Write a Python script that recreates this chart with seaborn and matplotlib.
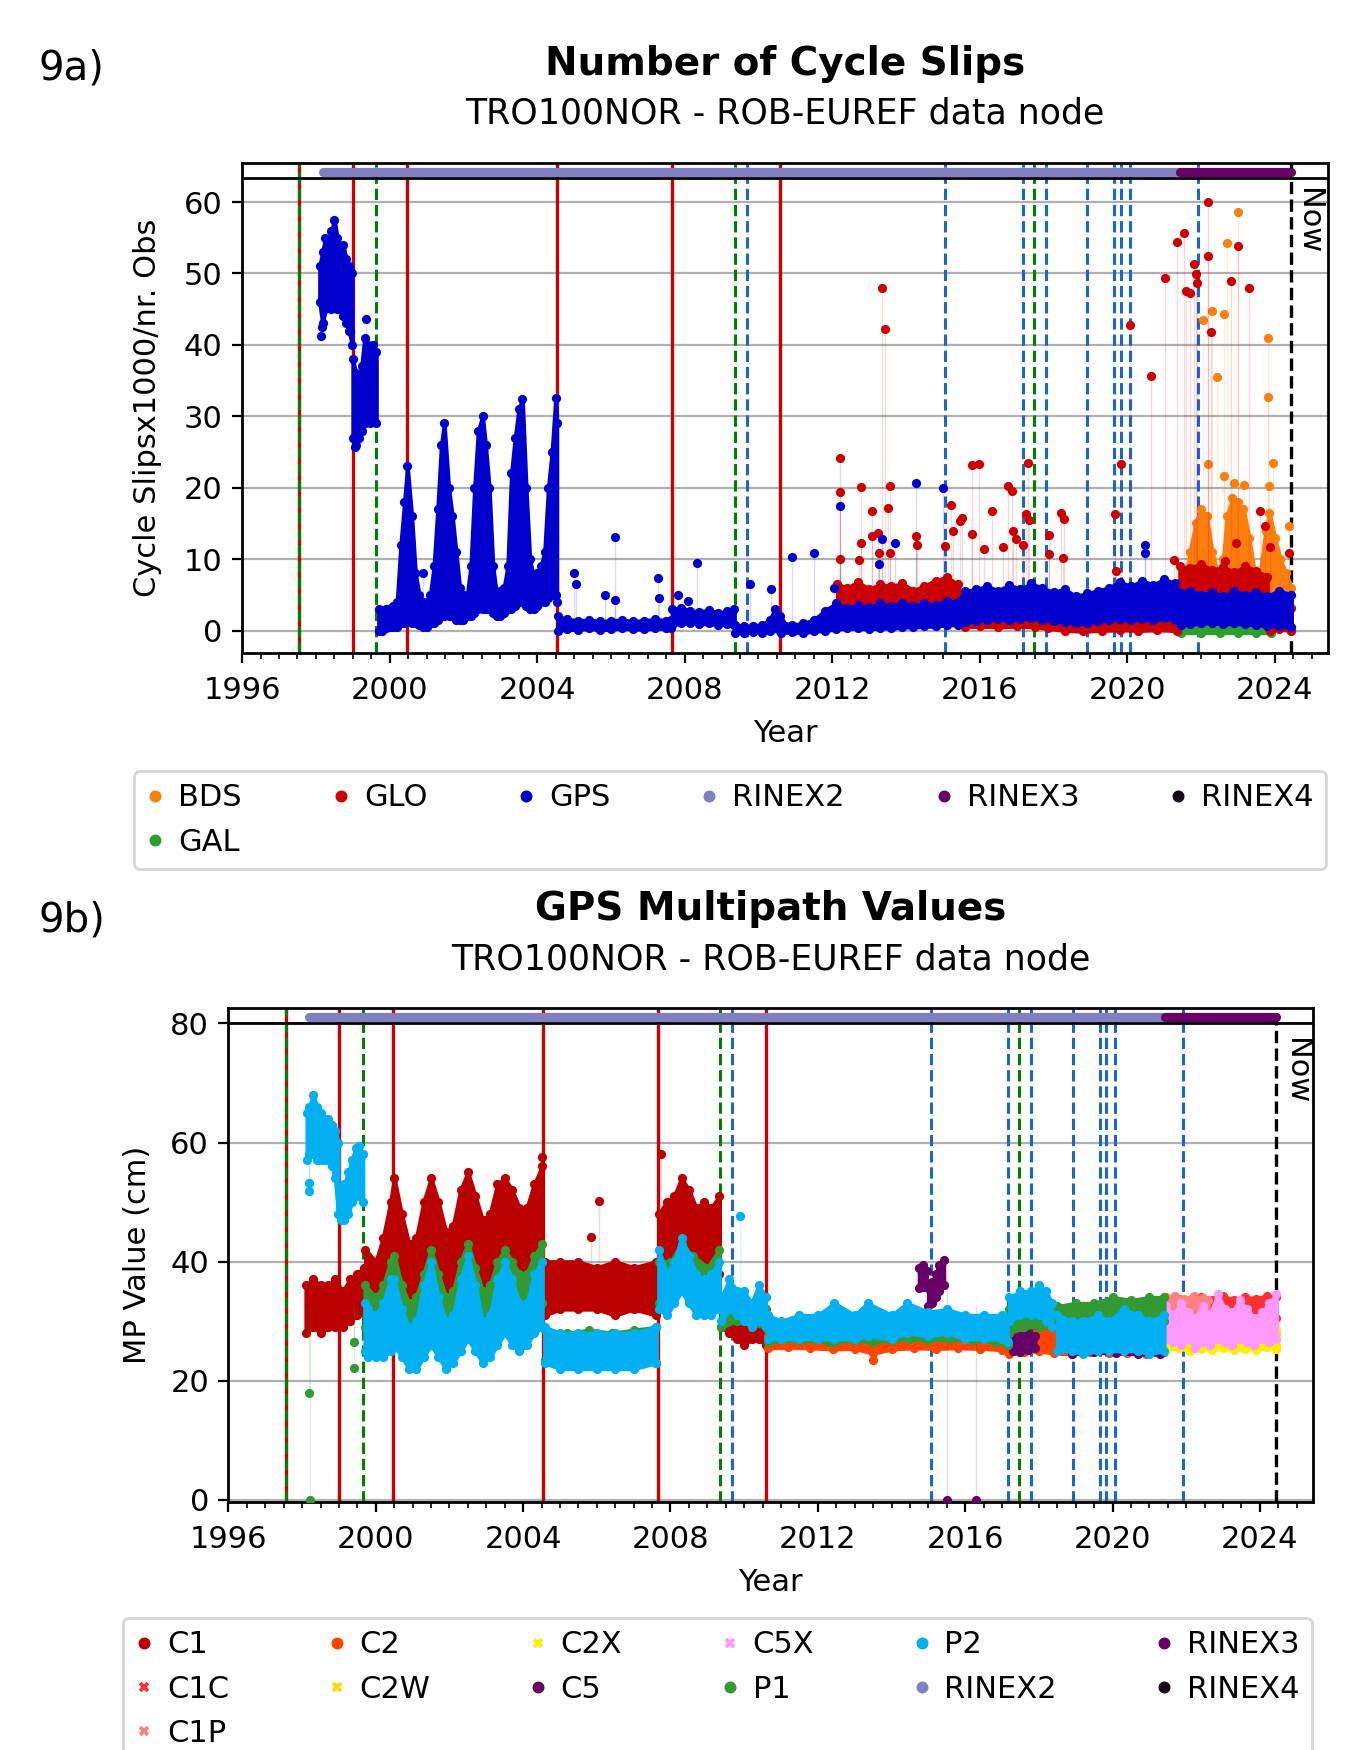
import numpy as np
import pandas as pd
import matplotlib
matplotlib.use("Agg")
import matplotlib.pyplot as plt
import seaborn as sns
from matplotlib.lines import Line2D
from matplotlib.ticker import MultipleLocator, FormatStrFormatter

sns.set_style("ticks")
plt.rcParams["font.family"] = ["DejaVu Sans"]
plt.rcParams["font.size"] = 11
for key in ("text.color", "axes.labelcolor", "xtick.color", "ytick.color", "axes.edgecolor"):
    plt.rcParams[key] = "black"

STATION = "TRO100NOR - ROB-EUREF data node"

# ---------------------------------------------------------------- station events (decimal years)
RECEIVER_CHANGES = [1997.55, 1999.0, 2000.48, 2004.54, 2007.65, 2010.59]
ANTENNA_CHANGES = [1997.55, 1999.64, 2009.35, 2017.46]
FIRMWARE_CHANGES = [2009.68, 2015.07, 2017.16, 2017.79, 2018.92, 2019.65, 2019.83, 2020.07, 2021.91]
NOW = 2024.45
RINEX_SPANS = {"RINEX2": (1998.18, 2021.43), "RINEX3": (2021.43, 2024.45)}

# ---------------------------------------------------------------- cycle slips (x1000 / nr. obs)
# each segment: (year, low edge, high edge) of the daily point cloud
GPS_CS = [
    [(1998.10, 46, 51), (1998.18, 43, 53), (1998.26, 45, 55), (1998.34, 46, 54), (1998.42, 45, 56),
     (1998.50, 46, 57.5), (1998.58, 45, 55), (1998.66, 45, 53), (1998.74, 44, 54), (1998.82, 43, 52),
     (1998.90, 42, 51), (1998.98, 40, 50)],
    [(1999.00, 27, 38), (1999.08, 26, 36), (1999.16, 27, 35), (1999.24, 28, 37), (1999.32, 29, 41),
     (1999.40, 30, 40), (1999.48, 29, 38), (1999.56, 30, 40), (1999.64, 29, 39)],
    [(1999.70, 0.0, 3.0), (1999.80, 0.0, 2.5), (1999.90, 0.3, 3.0), (2000.00, 0.5, 3.0), (2000.10, 0.5, 3.5),
     (2000.20, 0.5, 4.0), (2000.30, 1.0, 12), (2000.40, 1.0, 18), (2000.48, 1.5, 23), (2000.60, 1.0, 16),
     (2000.70, 1.0, 8.0), (2000.80, 0.8, 5.0), (2000.90, 0.5, 4.0), (2001.00, 0.5, 4.0), (2001.10, 1.0, 5.0),
     (2001.20, 1.0, 9.0), (2001.30, 1.5, 17), (2001.40, 2.0, 26), (2001.48, 2.0, 29), (2001.60, 2.0, 20),
     (2001.70, 2.0, 16), (2001.80, 1.5, 11), (2001.90, 1.5, 6.0), (2002.00, 1.5, 5.0), (2002.10, 2.0, 5.0),
     (2002.20, 2.0, 9.0), (2002.30, 2.5, 20), (2002.40, 3.0, 28), (2002.52, 3.0, 30), (2002.60, 3.0, 26),
     (2002.70, 3.0, 20), (2002.80, 2.5, 9.0), (2002.90, 2.0, 5.0), (2003.00, 2.0, 5.5), (2003.10, 2.5, 6.0),
     (2003.20, 3.0, 9.0), (2003.30, 3.0, 22), (2003.40, 3.5, 27), (2003.50, 4.0, 31), (2003.60, 4.0, 32.4),
     (2003.70, 3.5, 20), (2003.80, 3.0, 10), (2003.90, 3.0, 7.5), (2004.00, 3.5, 8.0), (2004.10, 4.0, 9.0),
     (2004.20, 4.0, 11), (2004.30, 4.5, 20), (2004.40, 5.0, 25), (2004.50, 5.0, 32.6), (2004.53, 4.0, 29)],
    [(2004.56, 0.0, 2.0), (2004.80, 0.2, 1.6), (2005.10, 0.1, 1.4), (2005.40, 0.3, 1.5), (2005.70, 0.1, 1.3),
     (2006.00, 0.2, 1.4), (2006.30, 0.3, 1.5), (2006.60, 0.2, 1.3), (2006.90, 0.2, 1.4), (2007.20, 0.3, 1.6),
     (2007.50, 0.3, 1.4), (2007.64, 0.4, 1.5)],
    [(2007.66, 0.8, 3.0), (2007.90, 1.0, 3.2), (2008.15, 1.1, 2.8), (2008.40, 0.9, 2.6), (2008.65, 1.0, 2.9),
     (2008.90, 0.8, 2.5), (2009.15, 0.9, 2.7), (2009.34, 0.8, 3.0)],
    [(2009.36, -0.3, 0.8), (2009.60, -0.3, 0.6), (2009.85, -0.2, 0.7), (2010.10, -0.3, 0.8), (2010.30, 0.0, 1.5),
     (2010.45, 0.3, 3.0), (2010.58, 0.0, 2.0)],
    [(2010.60, -0.3, 1.2), (2010.90, -0.2, 0.8), (2011.20, -0.3, 1.0), (2011.50, -0.1, 1.5), (2011.80, 0.0, 2.8),
     (2012.10, 0.2, 3.8), (2012.40, 0.3, 3.2), (2012.70, 0.3, 3.6), (2013.00, 0.2, 3.3), (2013.30, 0.4, 3.8),
     (2013.60, 0.3, 3.4), (2013.90, 0.5, 3.9), (2014.20, 0.5, 3.5), (2014.50, 0.6, 3.8), (2014.80, 0.6, 3.6),
     (2015.10, 0.8, 4.2), (2015.40, 0.8, 4.0), (2015.60, 1.2, 5.5), (2015.90, 1.4, 5.8), (2016.20, 1.5, 6.2),
     (2016.50, 1.6, 5.6), (2016.80, 1.5, 6.4), (2017.10, 1.6, 5.8), (2017.40, 1.8, 6.6), (2017.70, 1.5, 5.9),
     (2018.00, 1.3, 5.4), (2018.30, 1.2, 5.8), (2018.60, 1.0, 4.8), (2018.90, 1.0, 5.2), (2019.20, 1.3, 5.6),
     (2019.50, 1.5, 6.0), (2019.80, 1.6, 6.8), (2020.10, 1.5, 6.2), (2020.40, 1.6, 7.0), (2020.70, 1.5, 6.4),
     (2021.00, 1.7, 7.2), (2021.30, 1.5, 6.6), (2021.45, 0.8, 5.2), (2021.70, 0.9, 5.6), (2022.00, 1.0, 5.0),
     (2022.30, 1.1, 5.4), (2022.60, 0.9, 4.8), (2022.90, 1.0, 5.5), (2023.20, 0.9, 5.0), (2023.50, 0.8, 5.4),
     (2023.80, 0.7, 4.8), (2024.10, 0.6, 5.6), (2024.45, 0.5, 5.0)],
]
GPS_CS_OUT = [(1998.15, 41.2), (1998.16, 42.5), (1998.92, 42.0), (1999.05, 25.7), (1999.35, 43.6),
              (2000.90, 8.0), (2005.00, 8.0), (2005.05, 6.5), (2005.85, 5.0), (2006.10, 13.1), (2006.12, 4.3),
              (2007.28, 7.3), (2007.30, 4.5), (2007.82, 5.0), (2008.32, 9.4), (2008.10, 4.2), (2009.77, 6.5),
              (2010.33, 5.8), (2010.90, 10.3), (2011.50, 10.9), (2012.05, 6.0), (2012.20, 17.4), (2013.28, 9.3),
              (2013.35, 12.8), (2013.70, 12.3), (2014.28, 20.7), (2015.00, 20.0), (2020.47, 12.0), (2020.48, 10.9)]

GLO_CS = [
    [(2012.14, 1.5, 6.5), (2012.40, 2.5, 6.0), (2012.70, 2.2, 6.8), (2013.00, 2.0, 5.8), (2013.30, 2.5, 6.5),
     (2013.60, 2.0, 6.2), (2013.90, 2.3, 6.6), (2014.20, 2.0, 5.6), (2014.50, 2.4, 6.3), (2014.80, 2.5, 7.0),
     (2015.10, 2.8, 7.5), (2015.40, 2.5, 6.5), (2015.55, 1.5, 4.0)],
    [(2015.60, 0.5, 2.4), (2016.00, 0.6, 2.2), (2016.50, 0.5, 2.5), (2017.00, 0.6, 2.3), (2017.50, 0.5, 2.6),
     (2017.85, 0.3, 2.0), (2018.30, 0.0, 1.8), (2018.80, -0.1, 1.9), (2019.30, 0.0, 2.0), (2019.80, 0.1, 2.2),
     (2020.30, 0.0, 1.9), (2020.80, 0.1, 2.1), (2021.35, 0.0, 2.0)],
    [(2021.42, 4.5, 9.0), (2021.70, 4.2, 8.8), (2022.00, 4.5, 9.3), (2022.30, 4.0, 8.5), (2022.60, 4.4, 8.9),
     (2022.90, 4.0, 8.2), (2023.20, 4.3, 9.0), (2023.50, 4.0, 8.4), (2023.80, 3.5, 7.5)],
    [(2023.88, 0.0, 3.0), (2024.10, 0.2, 2.8), (2024.45, 0.0, 3.2)],
]
GLO_CS_OUT = [(2012.22, 24.2), (2012.22, 19.4), (2012.20, 10.0), (2012.79, 20.1), (2012.79, 12.2), (2012.72, 9.9),
              (2013.09, 16.7), (2013.07, 13.2), (2013.23, 13.6), (2013.26, 10.8), (2013.36, 48.0), (2013.42, 42.2),
              (2013.50, 17.2), (2013.57, 20.2), (2013.57, 10.8), (2014.28, 13.3), (2014.31, 12.0), (2015.07, 11.8),
              (2015.23, 17.6), (2015.28, 14.0), (2015.47, 15.3), (2015.52, 15.8), (2015.80, 13.5), (2015.78, 23.2),
              (2015.99, 23.3), (2016.12, 11.4), (2016.33, 16.7), (2016.62, 11.7), (2016.76, 20.2), (2016.87, 19.5),
              (2016.90, 13.9), (2016.98, 12.8), (2017.17, 12.0), (2017.25, 16.3), (2017.31, 23.5), (2017.33, 15.5),
              (2017.88, 13.4), (2017.89, 10.7), (2018.20, 16.4), (2018.28, 15.6), (2018.25, 10.1), (2019.67, 16.3),
              (2019.70, 8.4), (2019.82, 23.3), (2020.06, 42.8), (2020.63, 35.7), (2021.02, 49.4), (2021.35, 54.4),
              (2021.54, 55.7), (2021.58, 47.5), (2021.70, 47.3), (2021.80, 51.3), (2021.85, 49.9), (2021.90, 48.7),
              (2022.18, 60.0), (2022.18, 52.5), (2022.26, 41.8), (2022.80, 49.0), (2022.99, 53.9), (2023.29, 48.0),
              (2021.27, 9.9), (2022.95, 12.2), (2022.66, 9.8), (2023.60, 16.7), (2023.72, 14.7), (2023.88, 11.7),
              (2024.38, 10.8)]

BDS_CS = [
    [(2021.55, 1.5, 6.0), (2021.70, 2.0, 11), (2021.85, 3.0, 15), (2022.00, 4.0, 17), (2022.15, 4.0, 16),
     (2022.30, 3.0, 11), (2022.45, 2.0, 8.0), (2022.60, 2.5, 10), (2022.70, 4.0, 16), (2022.85, 5.0, 18.5),
     (2023.00, 5.0, 18), (2023.15, 5.0, 17), (2023.30, 4.0, 13), (2023.45, 2.5, 8.0), (2023.60, 2.0, 8.0),
     (2023.75, 3.0, 14), (2023.85, 3.0, 16.5), (2024.00, 2.5, 13), (2024.15, 2.0, 10), (2024.30, 1.0, 8.0),
     (2024.45, 0.5, 6.0)],
]
BDS_CS_OUT = [(2022.99, 58.6), (2022.70, 54.3), (2022.30, 44.7), (2022.06, 43.5), (2022.63, 44.3), (2022.43, 35.5),
              (2023.82, 40.9), (2023.82, 32.7), (2022.20, 23.3), (2023.94, 23.5), (2022.63, 21.6), (2022.90, 20.7),
              (2023.16, 20.4), (2023.83, 20.3), (2024.38, 14.7)]

GAL_CS = [
    [(2021.45, -0.3, 0.6), (2022.00, -0.3, 0.7), (2022.50, -0.3, 0.6), (2023.00, -0.3, 0.7),
     (2023.50, -0.3, 0.6), (2023.90, -0.3, 0.5)],
]
GAL_CS_OUT = [(2021.20, 0.3)]

# ---------------------------------------------------------------- GPS multipath (cm)
MP_C1 = [
    [(1998.10, 28, 36), (1998.30, 29, 37), (1998.50, 28, 36), (1998.70, 29, 36), (1998.90, 29, 37),
     (1999.10, 29, 35), (1999.30, 30, 37), (1999.50, 31, 38), (1999.68, 32, 39)],
    [(1999.72, 33, 42), (2000.00, 32, 40), (2000.20, 34, 44), (2000.40, 36, 50), (2000.50, 37, 54),
     (2000.70, 35, 48), (2000.90, 33, 43), (2001.10, 33, 44), (2001.30, 35, 50), (2001.50, 37, 54),
     (2001.70, 36, 50), (2001.90, 34, 45), (2002.10, 35, 46), (2002.30, 37, 52), (2002.50, 39, 55),
     (2002.70, 37, 51), (2002.90, 35, 47), (2003.10, 36, 48), (2003.30, 38, 53), (2003.50, 39, 54),
     (2003.70, 38, 52), (2003.90, 37, 49), (2004.10, 37, 49), (2004.30, 39, 53), (2004.52, 40, 56)],
    [(2004.58, 31, 40), (2005.00, 32, 40), (2005.50, 32, 40), (2006.00, 32, 39), (2006.50, 31, 40),
     (2007.00, 32, 39), (2007.62, 31, 40)],
    [(2007.68, 38, 48), (2007.90, 38, 50), (2008.10, 40, 51), (2008.30, 41, 54), (2008.50, 40, 52),
     (2008.70, 39, 49), (2008.90, 38, 50), (2009.10, 38, 49), (2009.33, 38, 51)],
    [(2009.38, 29, 33), (2009.60, 28, 32), (2009.80, 27, 31), (2010.00, 26, 30), (2010.20, 27, 31),
     (2010.40, 27, 30), (2010.58, 26, 29)],
    [(2010.62, 26, 28.5), (2012.00, 26.5, 28), (2014.00, 26, 28), (2016.00, 26, 28), (2018.00, 25.5, 28.5),
     (2020.00, 25.5, 28.5), (2021.40, 26, 29)],
]
MP_C1_OUT = [(2004.50, 57.5), (2007.75, 58.1), (2006.05, 50.1), (2005.85, 44.2)]

MP_C2 = [
    [(2010.65, 25.5, 27.5), (2011.20, 25.6, 27.4), (2011.80, 25.5, 27.6), (2012.40, 25.3, 27.3),
     (2013.00, 25.4, 27.4), (2013.50, 24.6, 27.0), (2014.00, 25.3, 27.2), (2014.60, 25.5, 27.5),
     (2015.20, 25.4, 27.4), (2015.80, 25.5, 27.3), (2016.40, 25.4, 27.2), (2017.00, 25.2, 27.0),
     (2017.20, 24.5, 28.0), (2017.60, 24.8, 28.5), (2018.00, 25.0, 28.2), (2018.40, 24.6, 28.6),
     (2018.90, 24.5, 27.5), (2019.40, 24.8, 27.6), (2019.90, 24.6, 27.4), (2020.40, 24.7, 27.8),
     (2020.90, 24.5, 27.5), (2021.40, 24.8, 27.6)],
]
MP_C2_OUT = [(2013.50, 23.4)]

MP_C5 = [
    [(2014.75, 35.5, 39.0), (2014.85, 35.8, 39.5), (2014.95, 36.0, 38.5)],
    [(2015.00, 32.5, 35.5), (2015.10, 33.0, 36.5), (2015.20, 34.0, 38.0), (2015.30, 35.0, 39.5),
     (2015.42, 36.0, 40.3)],
    [(2017.30, 25.0, 28.0), (2017.50, 24.8, 27.5), (2017.70, 25.2, 28.5), (2017.90, 25.5, 27.5)],
    [(2018.90, 24.5, 26.0), (2019.50, 24.8, 25.8), (2020.10, 24.6, 26.2), (2020.70, 24.5, 25.8),
     (2021.30, 24.4, 26.0)],
]
MP_C5_OUT = [(2015.50, 0.0), (2016.30, 0.0)]

MP_P1 = [
    [(1999.70, 29, 36), (2000.00, 27, 34), (2000.20, 28, 36), (2000.40, 30, 40), (2000.50, 31, 41),
     (2000.70, 29, 36), (2000.90, 27, 33), (2001.10, 27, 34), (2001.30, 29, 38), (2001.50, 31, 42),
     (2001.70, 30, 38), (2001.90, 28, 34), (2002.10, 28, 35), (2002.30, 30, 40), (2002.50, 32, 43),
     (2002.70, 30, 39), (2002.90, 28, 35), (2003.10, 29, 36), (2003.30, 31, 40), (2003.50, 32, 42),
     (2003.70, 31, 40), (2003.90, 30, 38), (2004.10, 30, 38), (2004.30, 32, 41), (2004.52, 33, 43)],
    [(2004.58, 23.5, 28.5), (2005.20, 23, 28), (2005.80, 23.5, 28.5), (2006.40, 23, 28), (2007.00, 23.5, 28.5),
     (2007.62, 23, 29)],
    [(2007.68, 33, 40), (2008.00, 33, 40), (2008.30, 35, 43), (2008.60, 34, 41), (2009.00, 32, 39),
     (2009.33, 33, 42)],
    [(2009.38, 29, 34), (2009.80, 30, 33), (2010.20, 29.5, 33), (2010.58, 29, 32)],
    [(2010.65, 26.5, 28.5), (2011.50, 26.8, 28.8), (2012.30, 26.5, 29.0), (2012.45, 26.5, 30.0),
     (2013.00, 26.8, 29.0), (2013.50, 26.5, 29.5), (2014.00, 26.8, 29.2), (2014.50, 27.0, 30.0),
     (2015.00, 26.8, 29.0), (2015.60, 27.0, 29.5), (2016.20, 26.8, 29.2), (2016.80, 26.5, 29.0),
     (2017.15, 26.0, 28.5)],
    [(2017.20, 28, 32), (2017.60, 29, 33), (2018.00, 29, 32), (2018.50, 29, 32.5), (2019.00, 29.5, 33),
     (2019.50, 29.5, 33), (2020.00, 30, 34), (2020.50, 30, 33.5), (2021.00, 30, 34), (2021.40, 30, 34)],
]
MP_P1_OUT = [(1998.20, 17.9), (1998.21, 0.0), (1999.40, 22.1), (1999.42, 26.5)]

MP_P2 = [
    [(1998.13, 57, 65), (1998.20, 58, 66), (1998.30, 58, 68), (1998.40, 57, 66), (1998.50, 57, 65),
     (1998.60, 57, 64), (1998.70, 57, 64), (1998.80, 56, 63), (1998.90, 54, 62), (1998.98, 48, 60)],
    [(1999.05, 47, 52), (1999.15, 47, 53), (1999.25, 48, 55), (1999.35, 50, 57), (1999.45, 51, 59),
     (1999.55, 51, 59.5), (1999.65, 50, 58)],
    [(1999.70, 25, 33), (1999.80, 24, 32), (2000.00, 24, 31), (2000.20, 24, 33), (2000.40, 25, 37),
     (2000.50, 26, 37), (2000.70, 24, 32), (2000.90, 22, 29), (2001.10, 22, 30), (2001.30, 24, 36),
     (2001.50, 26, 40), (2001.70, 24, 34), (2001.90, 22, 30), (2002.10, 23, 31), (2002.30, 25, 37),
     (2002.50, 27, 41), (2002.70, 25, 36), (2002.90, 23, 30), (2003.10, 24, 31), (2003.30, 26, 37),
     (2003.50, 28, 40), (2003.70, 26, 37), (2003.90, 25, 33), (2004.10, 26, 33), (2004.30, 28, 38),
     (2004.52, 29, 40)],
    [(2004.58, 23, 29), (2005.00, 22, 28), (2005.50, 22, 28), (2006.00, 22, 28), (2006.50, 22, 28),
     (2007.00, 22, 28), (2007.62, 23, 29)],
    [(2007.68, 32, 42), (2007.90, 31, 38), (2008.10, 33, 40), (2008.30, 35, 44), (2008.50, 33, 41),
     (2008.70, 31, 38), (2008.90, 31, 37), (2009.10, 31, 38), (2009.33, 32, 40)],
    [(2009.38, 30, 34), (2009.60, 32, 37), (2009.80, 31, 35), (2010.00, 30, 35), (2010.20, 29, 33),
     (2010.40, 30, 36), (2010.58, 29, 34)],
    [(2010.65, 27, 31), (2011.00, 27, 30), (2011.50, 27, 31), (2012.00, 27, 31), (2012.45, 27, 33),
     (2013.00, 27, 31), (2013.35, 27.5, 33), (2014.00, 27, 31), (2014.43, 28, 33), (2015.00, 27.5, 31.5),
     (2015.50, 28, 32), (2016.00, 27, 31), (2016.50, 27, 31), (2017.00, 27, 31), (2017.15, 26.5, 30.5)],
    [(2017.20, 30, 34), (2017.50, 31, 35), (2017.80, 31, 35), (2018.00, 31, 36), (2018.20, 30, 35),
     (2018.35, 29, 33)],
    [(2018.50, 25, 31), (2018.90, 25, 30), (2019.20, 24.5, 30), (2019.60, 25, 31), (2019.90, 25, 30),
     (2020.30, 25, 32), (2020.70, 25, 31), (2021.00, 24.5, 30), (2021.40, 25, 31)],
]
MP_P2_OUT = [(2009.90, 47.7), (1998.18, 53.2), (1998.19, 51.9)]

MP_C1C = [
    [(2021.45, 30.5, 33.5), (2021.80, 30.8, 33.8), (2022.10, 30.5, 33.2), (2022.40, 31.0, 34.0),
     (2022.70, 30.6, 33.5), (2023.00, 30.8, 34.2), (2023.30, 30.5, 33.6), (2023.60, 31.0, 34.0),
     (2023.90, 30.7, 33.8), (2024.20, 30.9, 34.3), (2024.45, 30.5, 34.0)],
]
MP_C1P = [
    [(2021.45, 30.8, 34.0), (2021.70, 31.0, 34.3), (2021.95, 30.6, 33.8), (2022.20, 31.0, 34.2),
     (2022.45, 30.7, 33.9), (2022.60, 30.8, 33.5)],
]
MP_C2W = [
    [(2021.45, 25.6, 27.6), (2022.20, 25.8, 27.8), (2023.00, 25.6, 27.9), (2023.80, 25.7, 27.7),
     (2024.45, 25.8, 27.8)],
]
MP_C2X = [
    [(2021.45, 25.2, 28.5), (2021.80, 25.5, 28.8), (2022.10, 25.0, 28.2), (2022.40, 25.4, 28.7),
     (2022.70, 25.2, 28.4), (2023.00, 25.5, 29.0), (2023.30, 25.1, 28.3), (2023.60, 25.4, 28.8),
     (2023.90, 25.2, 28.5), (2024.20, 25.6, 29.2), (2024.45, 25.3, 28.6)],
]
MP_C5X = [
    [(2021.45, 27.0, 32.5), (2021.65, 26.5, 31.0), (2021.85, 26.0, 33.0), (2022.05, 27.0, 31.5),
     (2022.25, 25.5, 30.5), (2022.45, 26.5, 32.5), (2022.65, 26.0, 31.0), (2022.85, 27.0, 34.5),
     (2023.05, 26.5, 32.0), (2023.25, 26.0, 31.5), (2023.45, 27.0, 33.5), (2023.65, 26.5, 32.0),
     (2023.85, 26.0, 30.5), (2024.05, 27.0, 31.5), (2024.25, 26.5, 33.0), (2024.45, 27.0, 34.5)],
]

# ---------------------------------------------------------------- colours and markers
CS_COLORS = {"BDS": "#ff7f0e", "GAL": "#2ca02c", "GLO": "#cc0000", "GPS": "#0000cc",
             "RINEX2": "#8080c0", "RINEX3": "#660066", "RINEX4": "#1a0018"}
MP_COLORS = {"C1": "#bb0000", "C1C": "#ff3030", "C1P": "#ff8080", "C2": "#ff4500", "C2W": "#ffd700",
             "C2X": "#ffee00", "C5": "#660066", "C5X": "#ff99ff", "P1": "#339933", "P2": "#00b0f0",
             "RINEX2": "#8080c0", "RINEX3": "#660066", "RINEX4": "#1a0018"}
X_MARKED = {"C1C", "C1P", "C2W", "C2X", "C5X"}

CS_SERIES = [("BDS", BDS_CS, BDS_CS_OUT), ("GAL", GAL_CS, GAL_CS_OUT),
             ("GLO", GLO_CS, GLO_CS_OUT), ("GPS", GPS_CS, GPS_CS_OUT)]
MP_SERIES = [("C1", MP_C1, MP_C1_OUT), ("C1C", MP_C1C, []), ("C1P", MP_C1P, []), ("C2", MP_C2, MP_C2_OUT),
             ("C2W", MP_C2W, []), ("C2X", MP_C2X, []), ("C5", MP_C5, MP_C5_OUT), ("C5X", MP_C5X, []),
             ("P1", MP_P1, MP_P1_OUT), ("P2", MP_P2, MP_P2_OUT)]


def draw_series(ax, segments, outliers, color, z):
    knots = []
    for seg in segments:
        t, lo, hi = np.array(seg, dtype=float).T
        ax.fill_between(t, lo, hi, color=color, edgecolor=color, linewidth=1.4, zorder=z)
        edge = pd.DataFrame({"year": np.r_[t, t], "value": np.r_[lo, hi]})
        sns.scatterplot(data=edge, x="year", y="value", color=color, s=11, linewidth=0,
                        ax=ax, zorder=z, legend=False)
        knots.append(np.c_[t, (lo + hi) / 2])
    if outliers:
        knots = np.vstack(knots)
        order = np.argsort(knots[:, 0])
        ot, ov = np.array(outliers, dtype=float).T
        base = np.interp(ot, knots[order, 0], knots[order, 1])
        ax.vlines(ot, base, ov, color=color, lw=0.5, alpha=0.15, zorder=z - 0.05)
        pts = pd.DataFrame({"year": ot, "value": ov})
        sns.scatterplot(data=pts, x="year", y="value", color=color, s=11, linewidth=0,
                        ax=ax, zorder=z, legend=False)


def draw_events(ax):
    for x in RECEIVER_CHANGES:
        ax.axvline(x, color="#cc0000", lw=1.2, zorder=1.0)
    for x in ANTENNA_CHANGES:
        ax.axvline(x, color="#008000", lw=1.1, ls="--", zorder=1.1)
    for x in FIRMWARE_CHANGES:
        ax.axvline(x, color="#1a66cc", lw=1.1, ls="--", zorder=1.1)
    ax.axvline(NOW, color="black", lw=1.2, ls="--", zorder=1.1)


def draw_rinex(ax, bar_y, line_y):
    ax.axhline(line_y, color="black", lw=1.0, zorder=5)
    for name, (a, b) in RINEX_SPANS.items():
        ax.plot([a, b], [bar_y, bar_y], color=CS_COLORS[name], lw=3.3,
                solid_capstyle="round", zorder=6)


def style_axes(ax, ylim, yticks, ylabel, ylabel_pad, now_dx, now_y):
    ax.set_xlim(1996, 2025.45)
    ax.set_ylim(*ylim)
    ax.set_yticks(yticks)
    ax.xaxis.set_major_locator(MultipleLocator(4))
    ax.xaxis.set_minor_locator(MultipleLocator(0.5))
    ax.xaxis.set_major_formatter(FormatStrFormatter("%d"))
    ax.yaxis.grid(True, color="#b0b0b0", lw=0.8)
    ax.xaxis.grid(False)
    ax.set_axisbelow(True)
    ax.set_xlabel("Year", fontsize=11, labelpad=5)
    ax.set_ylabel(ylabel, fontsize=11, labelpad=ylabel_pad)
    ax.tick_params(labelsize=11, color="black", labelcolor="black")
    ax.tick_params(axis="x", which="major", pad=5)
    for sp in ax.spines.values():
        sp.set_visible(True)
        sp.set_color("black")
        sp.set_linewidth(1.0)
    ax.text(NOW + now_dx, now_y, "Now", rotation=270, ha="center", va="top", fontsize=11)


def handles_for(names, colors):
    return [Line2D([], [], ls="none", marker="x" if n in X_MARKED else "o", color=colors[n],
                   markersize=3, markeredgewidth=1.3) for n in names]


fig = plt.figure(figsize=(6.84, 8.75), dpi=200)
ax1 = fig.add_axes([0.177, 0.627, 0.794, 0.280])
ax2 = fig.add_axes([0.167, 0.142, 0.793, 0.282])

# ---- cycle slips
draw_events(ax1)
for i, (name, segs, outs) in enumerate(CS_SERIES):
    draw_series(ax1, segs, outs, CS_COLORS[name], 2 + 0.1 * i)
draw_rinex(ax1, 64.2, 63.3)
style_axes(ax1, (-3.1, 65.5), [0, 10, 20, 30, 40, 50, 60], "Cycle Slipsx1000/nr. Obs", 8, 0.45, 61.9)

# ---- multipath
draw_events(ax2)
for i, (name, segs, outs) in enumerate(MP_SERIES):
    draw_series(ax2, segs, outs, MP_COLORS[name], 2 + 0.1 * i)
draw_rinex(ax2, 81.1, 80.0)
style_axes(ax2, (-0.3, 82.6), [0, 20, 40, 60, 80], "MP Value (cm)", 6.5, 0.55, 77.6)

# ---- titles and panel tags
fig.text(0.0285, 0.9606, "9a)", fontsize=14.5, va="center", ha="left")
fig.text(785 / 1368, 1 - 63.6 / 1750, "Number of Cycle Slips", ha="center", va="center",
         fontsize=14, fontweight="bold")
fig.text(785 / 1368, 1 - 114 / 1750, STATION, ha="center", va="center", fontsize=12.5)
fig.text(0.0285, 0.474, "9b)", fontsize=14.5, va="center", ha="left")
fig.text(771 / 1368, 1 - 909 / 1750, "GPS Multipath Values", ha="center", va="center",
         fontsize=14, fontweight="bold")
fig.text(771 / 1368, 1 - 960 / 1750, STATION, ha="center", va="center", fontsize=12.5)

# ---- legends
cs_names = ["BDS", "GAL", "GLO", "GPS", "RINEX2", "RINEX3", "RINEX4"]
fig.legend(handles_for(cs_names, CS_COLORS), cs_names, loc="upper left",
           bbox_to_anchor=(134 / 1368, 1 - 771 / 1750, 1192 / 1368, 0), mode="expand",
           ncol=6, borderaxespad=0, handlelength=0.6, handletextpad=0.45, fontsize=11)
mp_names = ["C1", "C1C", "C1P", "C2", "C2W", "C2X", "C5", "C5X", "P1", "P2", "RINEX2", "RINEX3", "RINEX4"]
fig.legend(handles_for(mp_names, MP_COLORS), mp_names, loc="upper left",
           bbox_to_anchor=(123 / 1368, 1 - 1618 / 1750, 1189 / 1368, 0), mode="expand",
           ncol=6, borderaxespad=0, handlelength=0.6, handletextpad=0.45, fontsize=11)

fig.savefig("out.png", dpi=200)
